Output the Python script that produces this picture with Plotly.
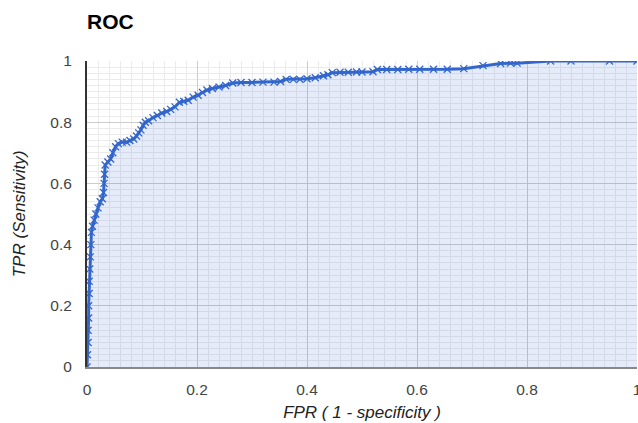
import plotly.graph_objects as go

fpr = [0.0, 0.001, 0.002, 0.002, 0.003, 0.003, 0.004, 0.004, 0.005, 0.006, 0.007, 0.008,
       0.010, 0.013, 0.016, 0.020, 0.024, 0.028, 0.030, 0.031, 0.032, 0.033, 0.038, 0.043,
       0.047, 0.052, 0.057, 0.064, 0.072, 0.078, 0.085, 0.090, 0.094, 0.098, 0.102, 0.106,
       0.112, 0.120, 0.128, 0.136, 0.145, 0.152, 0.160, 0.168, 0.176, 0.184, 0.193, 0.202,
       0.210, 0.218, 0.228, 0.240, 0.252, 0.265, 0.280, 0.300, 0.320, 0.340, 0.352, 0.362,
       0.375, 0.387, 0.400, 0.415, 0.430, 0.438, 0.446, 0.460, 0.475, 0.490, 0.500, 0.520,
       0.528, 0.545, 0.565, 0.585, 0.605, 0.630, 0.655, 0.685, 0.720, 0.752, 0.770, 0.782,
       0.843, 0.880, 0.950, 1.0]
tpr = [0.0, 0.04, 0.08, 0.12, 0.16, 0.20, 0.24, 0.28, 0.32, 0.36, 0.40, 0.44,
       0.46, 0.48, 0.50, 0.52, 0.54, 0.55, 0.57, 0.60, 0.63, 0.66, 0.67, 0.68,
       0.70, 0.72, 0.73, 0.735, 0.735, 0.74, 0.745, 0.755, 0.765, 0.775, 0.79, 0.80,
       0.805, 0.815, 0.822, 0.83, 0.835, 0.842, 0.85, 0.865, 0.868, 0.872, 0.882, 0.888,
       0.897, 0.905, 0.91, 0.915, 0.92, 0.928, 0.93, 0.93, 0.931, 0.931, 0.933, 0.94,
       0.94, 0.94, 0.942, 0.945, 0.952, 0.955, 0.962, 0.963, 0.963, 0.964, 0.964, 0.965,
       0.972, 0.972, 0.972, 0.973, 0.973, 0.973, 0.973, 0.975, 0.985, 0.992, 0.993, 0.993,
       1.0, 1.0, 1.0, 1.0]

tick_vals = [0, 0.2, 0.4, 0.6, 0.8, 1]
tick_text = ["0", "0.2", "0.4", "0.6", "0.8", "1"]

blue = "#3366cc"

fig = go.Figure()
fig.add_trace(go.Scatter(
    x=fpr, y=tpr, mode="lines+markers", fill="tozeroy",
    fillcolor="rgba(51,102,204,0.13)",
    line=dict(color=blue, width=3),
    marker=dict(symbol="x-thin", size=7, line=dict(color=blue, width=1.3), color=blue),
    showlegend=False, hoverinfo="x+y",
))

font = "Liberation Sans, Arial, sans-serif"
axis_common = dict(
    range=[0, 1], tickvals=tick_vals, ticktext=tick_text,
    showgrid=True, gridcolor="#cccccc", gridwidth=1,
    minor=dict(dtick=0.02, showgrid=True, gridcolor="#ebebeb", gridwidth=1),
    zeroline=False, ticks="outside", tickcolor="rgba(0,0,0,0)",
    tickfont=dict(family=font, size=15.5, color="#444444"),
    automargin=False, fixedrange=True,
)

fig.update_layout(
    width=638, height=423, template="none",
    margin=dict(l=87, r=1, t=61, b=56),
    paper_bgcolor="white", plot_bgcolor="white",
    title=dict(text="<b>ROC</b>", x=87 / 638, xanchor="left", y=1 - 22 / 423, yanchor="middle",
               font=dict(family=font, size=21, color="#000000")),
    xaxis=dict(**axis_common, ticklen=7, ticklabeloverflow="allow",
               showline=True, linecolor="#888888", linewidth=2,
               title=dict(text="<i>FPR ( 1 - specificity )</i>", standoff=10,
                          font=dict(family=font, size=17, color="#222222"))),
    yaxis=dict(**axis_common, ticklen=10,
               showline=True, linecolor="#333333", linewidth=2,
               title=dict(text="<i>TPR (Sensitivity)</i>", standoff=20,
                          font=dict(family=font, size=17, color="#222222"))),
)

fig.write_html("out.html", config={"displayModeBar": False},
               post_script="document.body.style.margin='0';document.body.style.overflow='hidden';")
